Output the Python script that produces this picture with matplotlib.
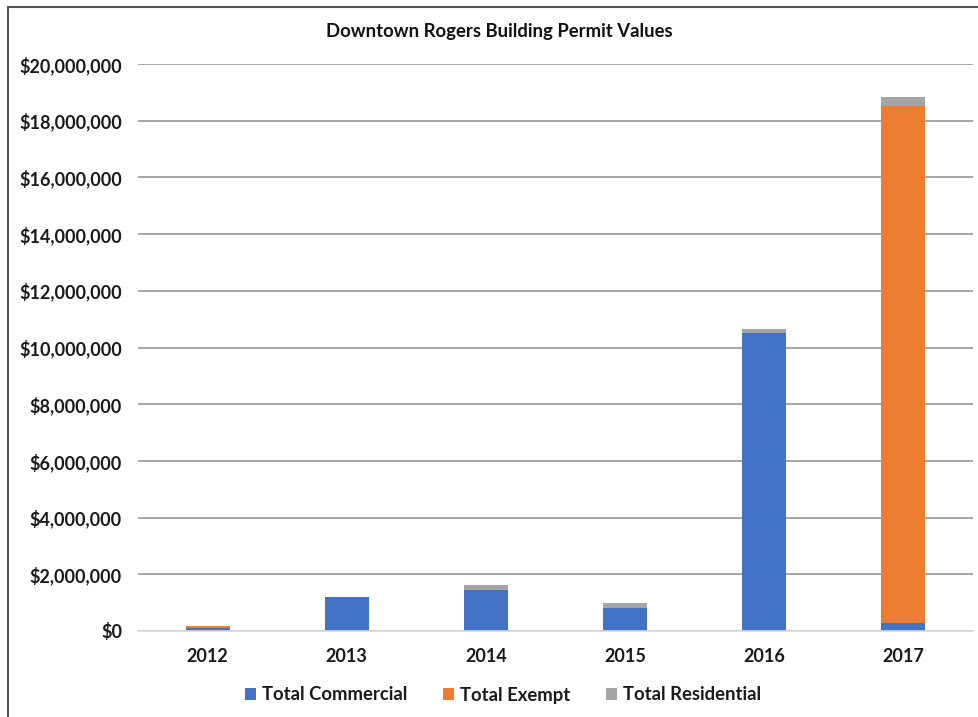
import matplotlib
matplotlib.use("Agg")
import matplotlib.pyplot as plt
from matplotlib.patches import Rectangle
from matplotlib.ticker import FuncFormatter
import numpy as np

years = ["2012", "2013", "2014", "2015", "2016", "2017"]
commercial = [100000, 1200000, 1460000, 820000, 10520000, 270000]
exempt = [90000, 0, 0, 0, 0, 18260000]
residential = [0, 0, 166000, 155000, 120000, 300000]
series_names = ["Total Commercial", "Total Exempt", "Total Residential"]
colors = ["#4472C4", "#ED7D31", "#A5A5A5"]
yticks = list(range(0, 20000001, 2000000))

plt.rcParams['font.family'] = ['Lato', 'DejaVu Sans']
plt.rcParams['font.weight'] = 'bold'

fig = plt.figure(figsize=(9.79, 7.17), dpi=100)
ax = fig.add_axes([138/979, 1-631/717, 835/979, (631-64)/717])

x = np.arange(len(years))
w = 0.316
b1 = np.array(commercial)
b2 = b1 + np.array(exempt)
ax.bar(x, commercial, w, color=colors[0], label=series_names[0], zorder=3)
ax.bar(x, exempt, w, bottom=b1, color=colors[1], label=series_names[1], zorder=3)
ax.bar(x, residential, w, bottom=b2, color=colors[2], label=series_names[2], zorder=3)

ax.set_xlim(-0.5, len(years)-0.5)
ax.set_ylim(0, 20000000)
ax.set_yticks(yticks)
ax.yaxis.set_major_formatter(FuncFormatter(lambda v, p: "${:,.0f}".format(v)))
ax.set_xticks(x)
ax.set_xticklabels(years)
ax.tick_params(axis='both', length=0, labelsize=13.0, colors='#1a1a1a')
ax.tick_params(axis='y', pad=11.5)
ax.tick_params(axis='x', pad=12)
for lab in ax.get_xticklabels() + ax.get_yticklabels():
    lab.set_fontweight('bold')

ax.grid(axis='y', color='#A6A6A6', linewidth=1.4, zorder=0)
for s in ['top', 'right', 'left']:
    ax.spines[s].set_visible(False)
ax.spines['bottom'].set_color('#D9D9D9')
ax.spines['bottom'].set_linewidth(1.2)
ax.spines['bottom'].set_zorder(4)

fig.text(499/979, 1-32/717, "Downtown Rogers Building Permit Values", ha='center', va='center',
         fontsize=13.3, fontweight='bold', color='#111111')

leg = fig.legend(loc='center', bbox_to_anchor=(503/979, 1-695/717), ncol=3, frameon=False,
                 fontsize=13.3, handlelength=0.6, handleheight=0.6, handletextpad=0.35,
                 columnspacing=1.9)
for t in leg.get_texts():
    t.set_fontweight('bold')
    t.set_color('#1a1a1a')

border = Rectangle((8/979, -0.05), 1.1, 1-7/717+0.05, transform=fig.transFigure,
                   fill=False, edgecolor='#555555', linewidth=1.5)
fig.patches.append(border)

fig.savefig("out.png", dpi=100)
